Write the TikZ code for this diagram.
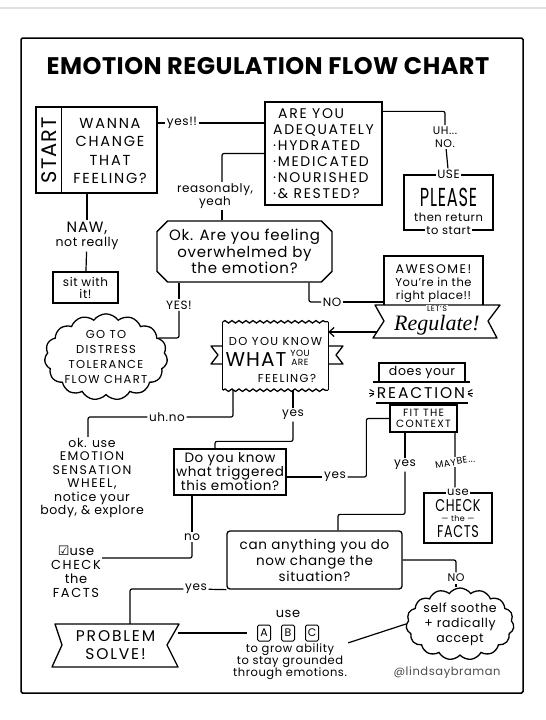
\documentclass[tikz,border=0pt]{standalone}
\usepackage{graphicx}
\usepackage{fontspec}
\setmainfont{Poppins}[LetterSpace=5]
\newfontfamily\capsface{Poppins}[LetterSpace=12]
\newfontfamily\titleface{Poppins}[LetterSpace=2]
\newfontfamily\scriptface{Liberation Serif}
\newfontfamily\symface{DejaVu Sans}
\usetikzlibrary{arrows.meta, positioning, shapes.misc, shapes.symbols, decorations.pathmorphing}

\newcommand{\setsize}[2]{\fontsize{#1}{#2}\selectfont}

\begin{document}
\begin{tikzpicture}[
    x=1pt, y=-1pt,
    box/.style={
        draw,
        line width=1.3pt,
        align=center,
        inner sep=2pt,
        font=\setsize{14}{16.5},
    },
    link/.style={
        line width=1.2pt,
        rounded corners=2pt,
    },
    answer/.style={
        align=center,
        inner sep=1.5pt,
        font=\setsize{12}{13},
    },
    bubble/.style={
        cloud,
        draw,
        line width=1.3pt,
        cloud puffs=15,
        cloud puff arc=110,
        cloud ignores aspect,
        align=center,
        inner sep=0pt,
    },
    ribbon/.style={
        line width=1.3pt,
        line join=round,
        fill=white,
    },
    keybox/.style={
        draw,
        line width=1pt,
        rounded corners=1.5pt,
        minimum width=13pt,
        minimum height=16pt,
        inner sep=0pt,
        font=\setsize{11}{11},
    },
    note/.style={
        align=center,
        inner sep=1pt,
        font=\setsize{12}{13.5},
    },
    wavy/.style={
        line width=1.3pt,
        decorate,
        decoration={snake, amplitude=1.2pt, segment length=7pt},
    },
]
    % Page and frame
    \useasboundingbox (0,0) rectangle (546,720);
    \fill[white] (0,0) rectangle (546,720);
    \draw[black!12, line width=2pt] (0,8) -- (546,8);
    \draw[line width=1.5pt, rounded corners=1.5pt] (21,38) rectangle (523,693);

    \node[font=\titleface\bfseries\setsize{24}{24}] (title) at (268,66) {EMOTION REGULATION FLOW CHART};

    % Start
    \node[box, minimum width=121pt, minimum height=86pt] (start) at (96.5,150) {};
    \draw[line width=1.3pt] ([xshift=26pt]start.north west) -- ([xshift=26pt]start.south west);
    \node[rotate=90, font=\setsize{21}{21}] (startword) at (49,150) {START};
    \node[note, font=\capsface\setsize{14.5}{18.5}] (wanna) at (110,151) {WANNA\\CHANGE\\THAT\\FEELING?};

    % Basics check
    \node[box, align=left, minimum width=117pt, minimum height=103pt, font=\capsface\setsize{14}{16}] (areyou) at (323.5,153.5)
        {\hspace{5pt}ARE YOU\\ADEQUATELY\\·HYDRATED\\·MEDICATED\\·NOURISHED\\·\& RESTED?};
    \node[box, minimum width=89pt, minimum height=55pt] (please) at (448.5,202.5) {};
    \node[answer, fill=white] (pleaseuse) at (please.north) {USE};
    \node[inner sep=0pt, font=\setsize{26}{26}] (pleaseword) at (448.5,197) {\scalebox{0.62}[1]{PLEASE}};
    \node[note, font=\setsize{11.5}{12}] (returnto) at (448.5,217) {then return};
    \node[answer, fill=white, font=\setsize{11.5}{11.5}] (tostart) at (please.south) {to start};

    % Overwhelmed?
    \node[box, chamfered rectangle, chamfered rectangle xsep=7pt, minimum width=175pt, minimum height=61pt,
        font=\setsize{15}{16.5}] (ok) at (244.5,251.5) {Ok. Are you feeling\\overwhelmed by\\the emotion?};
    \node[box, minimum width=65pt, minimum height=31pt, font=\setsize{12}{12}] (sit) at (85.5,287.5) {sit with\\it!};
    \node[bubble, minimum width=107pt, minimum height=83pt, font=\capsface\setsize{11.5}{15}] (distress) at (106,357)
        {GO TO\\DISTRESS\\TOLERANCE\\FLOW CHART};

    % Awesome + ribbon
    \node[box, minimum width=99pt, minimum height=56pt, font=\setsize{11.5}{13}] (awesome) at (433.5,284)
        {{\capsface\setsize{12.5}{13}AWESOME!}\\You're in the\\right place!!};
    \draw[ribbon] (375,305) -- (500,305) -- (488,321) -- (497,338) -- (373,338) -- (384,321) -- cycle;
    \node[font=\scriptface\itshape\setsize{22}{22}] (regulate) at (437,325) {Regulate!};
    \node[fill=white, inner sep=1pt, font=\setsize{8}{8}] (lets) at (437,309) {LET'S};
    \coordinate (banL) at (377,332);

    % Do you know what you are feeling
    \node[minimum width=105pt, minimum height=68pt] (dyk) at (275.5,356) {};
    \node[inner sep=0pt, font=\capsface\setsize{11.5}{11.5}] (dykline) at (275.5,341) {DO YOU KNOW};
    \node[inner sep=0pt, font=\setsize{20}{20}] (dykwhat) at (256,360) {WHAT};
    \node[inner sep=0pt, align=center, font=\setsize{9}{9}] (dykyou) at (300,358) {YOU\\ARE};
    \node[inner sep=0pt, font=\capsface\setsize{11.5}{11.5}] (dykfeel) at (287,378) {FEELING?};
    \draw[wavy] (dyk.north west) -- (dyk.north east);
    \draw[wavy] (dyk.south west) -- (dyk.south east);
    \draw[line width=1.3pt] (dyk.north west) -- (dyk.south west);
    \draw[line width=1.3pt] (dyk.north east) -- (dyk.south east);
    \draw[ribbon, fill=none] (dyk.west |- 0,346) -- (211,346) -- (218,355) -- (211,364) -- (dyk.west |- 0,364);
    \draw[ribbon, fill=none] (dyk.east |- 0,346) -- (343,346) -- (336,355) -- (343,364) -- (dyk.east |- 0,364);

    \node[note, font=\setsize{12.5}{13.5}] (wheel) at (92,478)
        {ok. use\\{\capsface EMOTION}\\{\capsface SENSATION}\\{\capsface WHEEL,}\\notice your\\body, \& explore};
    \node[box, minimum width=112pt, minimum height=46pt, font=\setsize{13.5}{14}] (trig) at (230,472)
        {Do you know\\what triggered\\this emotion?};

    % Reaction
    \node[inner sep=1pt, font=\capsface\setsize{15.5}{15.5}] (reaction) at (421,393) {REACTION};
    \node[box, minimum width=86pt, minimum height=19pt, inner sep=1pt, font=\setsize{12.5}{12.5}] (does) at (422,372.5) {does your};
    \node[box, minimum width=67pt, minimum height=27pt, inner sep=1pt, font=\capsface\setsize{10.5}{11}] (fit) at (423.5,418.5) {FIT THE\\CONTEXT};
    \draw[line width=1.3pt] (373,382) -- (470,382);
    \draw[line width=1.3pt] (376,403) -- (468,403);
    \foreach \a in {150,180,210} \draw[line width=1pt] (reaction.west) ++(\a:2) -- ++(\a:5);
    \foreach \a in {30,0,-30} \draw[line width=1pt] (reaction.east) ++(\a:2) -- ++(\a:5);

    \node[box, minimum width=68pt, minimum height=50pt] (facts) at (458,518) {};
    \node[answer, fill=white, font=\setsize{11.5}{11.5}] (factsuse) at (facts.north) {use};
    \node[inner sep=0pt, font=\setsize{17}{17}] (checkword) at (458,506) {\scalebox{0.75}[1]{CHECK}};
    \node[inner sep=0pt, font=\setsize{8}{8}] (theword) at (458,519) {— the —};
    \node[inner sep=0pt, font=\setsize{17}{17}] (factsword) at (458,532) {\scalebox{0.75}[1]{FACTS}};

    % Can you change it
    \node[box, rounded corners=3pt, minimum width=175pt, minimum height=58pt, font=\setsize{13.5}{16}] (can) at (314.5,560)
        {can anything you do\\now change the\\situation?};
    \node[note, font=\setsize{13}{14}] (check2) at (76,572) {{\symface ☑}use\\{\capsface CHECK}\\the\\{\capsface FACTS}};

    \draw[ribbon] (55,624) -- (179,624) -- (167,645) -- (178,667) -- (52,667) -- (62,645) -- cycle;
    \node[minimum width=124pt, minimum height=43pt, align=center, font=\capsface\setsize{15.5}{18}] (problem) at (115.5,645.5)
        {PROBLEM\\SOLVE!};

    \node[answer, font=\setsize{13}{13}] (abcuse) at (288,614) {use};
    \foreach \k [count=\i] in {A,B,C}
        \node[keybox] (key\k) at (240+24*\i,633) {\k};
    \node[note, font=\setsize{11.5}{12}] (grow) at (290,662) {to grow ability\\to stay grounded\\through emotions.};

    \node[bubble, minimum width=103pt, minimum height=72pt, font=\setsize{12.5}{15}] (soothe) at (460,624)
        {self soothe\\+ radically\\accept};
    \node[font=\setsize{11.5}{11.5}, text=black!70] (credit) at (447,673) {@lindsaybraman};

    % Answers
    \node[answer] (yes1) at (182,123) {yes!!};
    \node[answer, font=\setsize{11}{13}] (uhno) at (445,137) {UH...\\NO.};
    \node[answer, font=\setsize{12}{13}] (reason) at (215,196) {reasonably,\\yeah};
    \node[answer, font=\setsize{15}{14}] (naw) at (87,236) {NAW,\\\setsize{12.5}{12.5}not really};
    \node[answer] (yes2) at (179,305) {YES!};
    \node[answer] (no1) at (332,302) {NO};
    \node[answer] (uhno2) at (167,417) {uh.no};
    \node[answer] (yes3) at (293,415) {yes};
    \node[answer] (yes4) at (335,477) {yes};
    \node[answer] (yes5) at (405,465) {yes};
    \node[answer, rotate=10, font=\setsize{9.5}{9.5}] (maybe) at (455,462) {MAYBE...};
    \node[answer] (no2) at (192,537) {no};
    \node[answer] (yes6) at (196,589) {yes};
    \node[answer, font=\setsize{11}{11}] (no3) at (456,578) {NO};

    % Connectors
    \coordinate (trigin) at ([xshift=-15pt]trig.north);
    \coordinate (canin) at ([xshift=23.5pt]can.north);
    \coordinate (reasonin) at ([xshift=-22.5pt]ok.north);
    \draw[link] (start.east |- yes1) -- (yes1);
    \draw[link] (yes1) -- (areyou.west |- yes1);
    \draw[link] ([yshift=-10pt]areyou.north east) -| (uhno);
    \draw[link] (uhno) -- (pleaseuse);
    \draw[link] (areyou.west) -| (reasonin |- reason.north);
    \draw[link] (reasonin |- reason.south) -- (reasonin);
    \draw[link] (naw |- start.south) -- (naw);
    \draw[link] (naw) -- (sit);
    \draw[link] (yes2 |- ok.south) -- (yes2);
    \draw[link] (yes2) |- (distress.20);
    \draw[link] ([xshift=64.5pt]ok.south) |- (no1);
    \draw[link] (no1) -- (awesome.west |- no1);
    \draw[link, -{Straight Barb[length=5pt, width=9pt]}] (banL) -- (dyk.east |- banL);
    \draw[link] ([xshift=-42.5pt]dyk.south) |- (uhno2);
    \draw[link] (uhno2) -| ([xshift=-4pt]wheel.north);
    \draw[link] ([xshift=17.5pt]dyk.south) -- (yes3);
    \draw[link] (yes3) |- ([yshift=7pt]trigin) -- (trigin);
    \draw[link] (trig.east |- yes4) -- (yes4);
    \draw[link] (yes4) -| ([xshift=-23pt]fit.west) -- (fit.west);
    \draw[link] (yes5 |- fit.south) -- (yes5);
    \draw[link] (yes5) |- ([yshift=16pt]canin) -- (canin);
    \draw[link] (maybe |- fit.south) -- (maybe);
    \draw[link] (maybe) -- (maybe |- factsuse.north);
    \draw[link] ([xshift=-38pt]trig.south) -- (no2);
    \draw[link] (no2) |- ([yshift=-13pt]check2.north east);
    \draw[link] (can.south west) -- (yes6);
    \draw[link] (yes6) -| ([xshift=14.5pt]problem.north);
    \draw[link, shorten >=10pt] (problem.east |- keyA) -- (keyA.west);
    \draw[link] (grow.north east) -- (soothe.west);
    \draw[link] (can.east) -| (no3);
    \draw[link] (no3) -- (no3 |- soothe.north);
\end{tikzpicture}
\end{document}
